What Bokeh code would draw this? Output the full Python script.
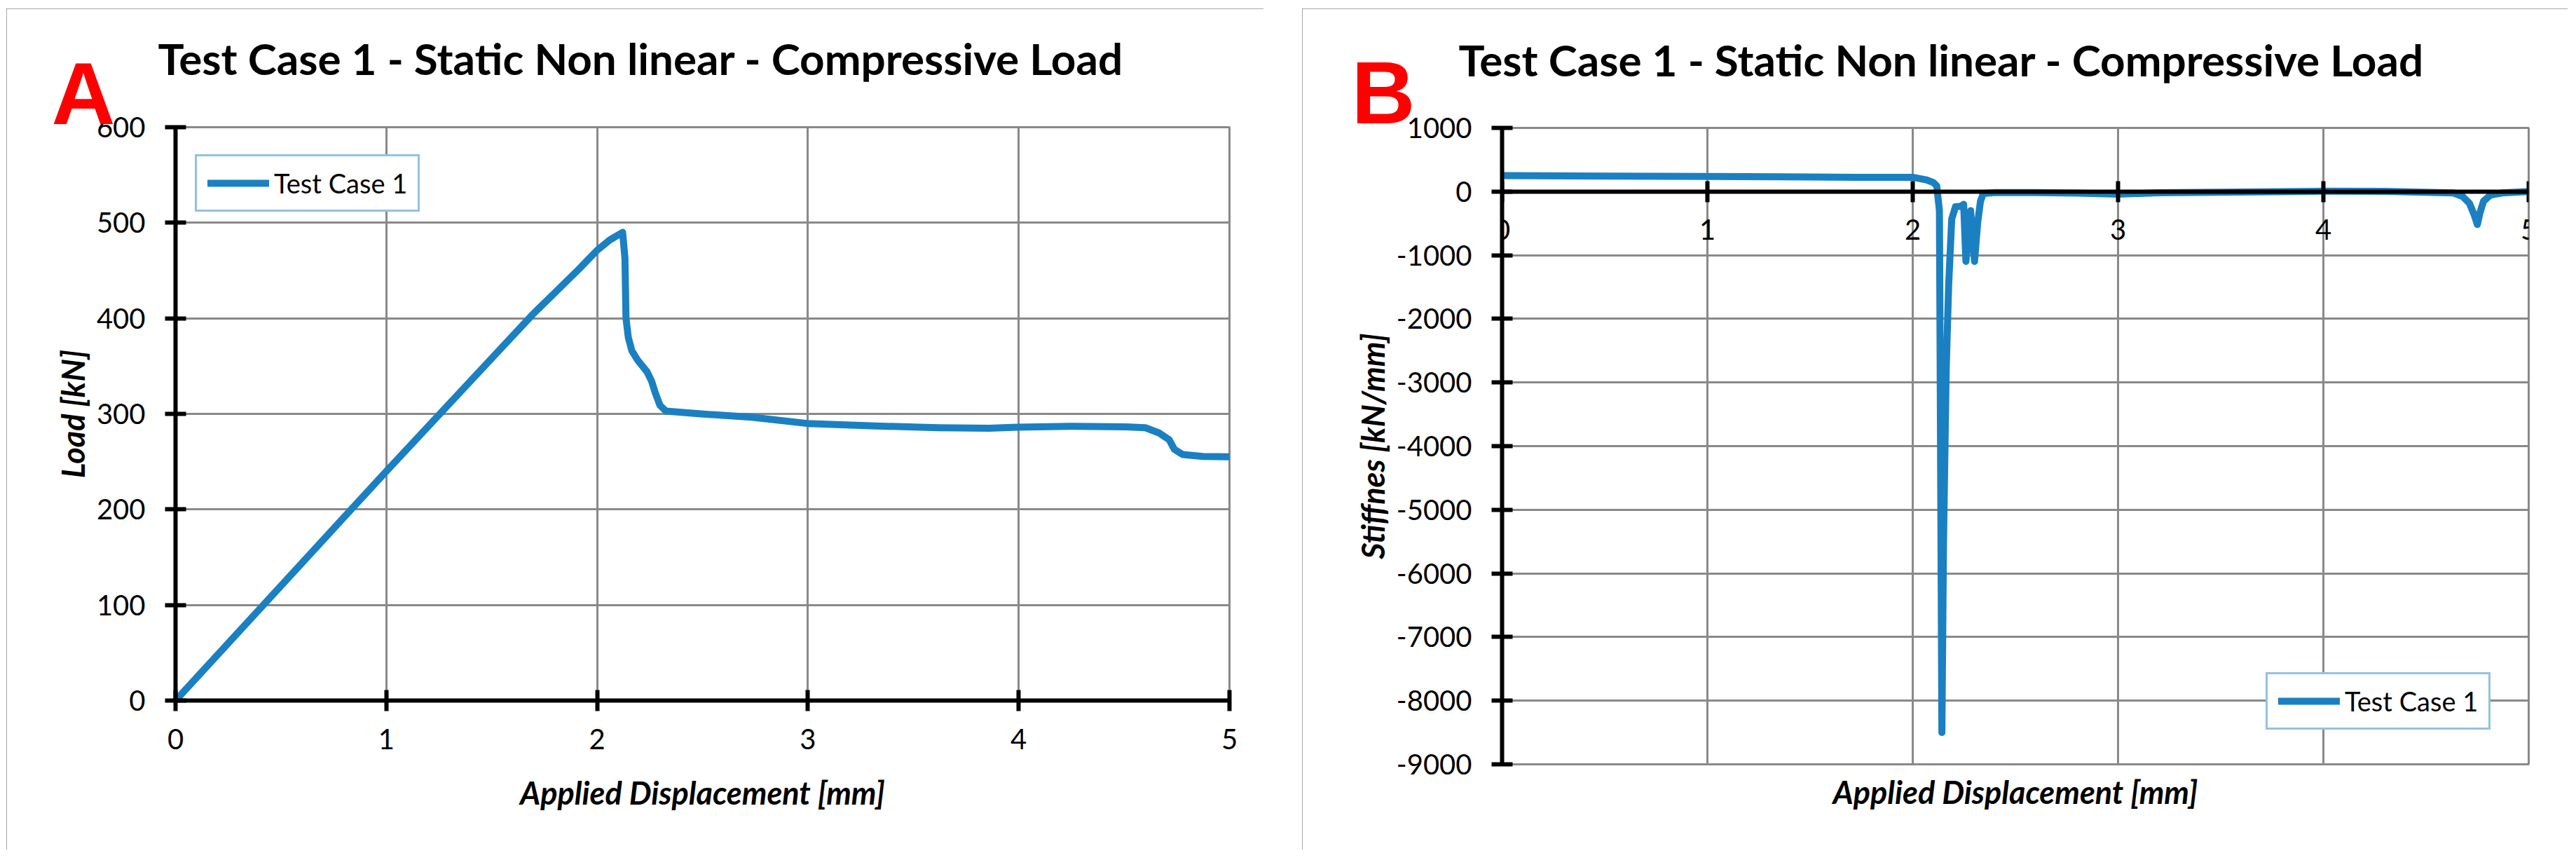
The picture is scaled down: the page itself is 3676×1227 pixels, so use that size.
from bokeh.plotting import figure
from bokeh.models import Range1d, FixedTicker, LinearAxis, Title
from bokeh.layouts import row, column
from bokeh.embed import file_html
from bokeh.resources import INLINE

# ---------------- data ----------------
chart_title = "Test Case 1 - Static Non linear - Compressive Load"
series_name = "Test Case 1"
x_title = "Applied Displacement [mm]"
y_title_a = "Load [kN]"
y_title_b = "Stiffnes [kN/mm]"

disp_a = [0.0, 1.0, 1.694, 1.805, 1.916, 1.999, 2.060, 2.121, 2.132, 2.137,
          2.148, 2.165, 2.193, 2.237, 2.259, 2.276, 2.298, 2.326, 2.492, 2.733,
          2.996, 3.297, 3.619, 3.860, 3.993, 4.262, 4.505, 4.601, 4.666, 4.714,
          4.738, 4.778, 4.875, 5.0]
load_a = [0, 240, 404, 428, 452, 471, 482, 490, 463, 400,
          380, 366, 356, 344, 334, 322, 309, 303, 300, 296.5,
          290, 287.5, 285.5, 285, 286, 287, 286.5, 285.5, 280, 273,
          263, 257.5, 255.5, 255]

disp_b = [0.0, 0.5, 1.0, 1.5, 1.73, 2.0, 2.07, 2.10, 2.117, 2.130,
          2.142, 2.150, 2.163, 2.175, 2.19, 2.208, 2.235, 2.248, 2.259, 2.282,
          2.301, 2.316, 2.33, 2.344, 2.4, 2.6, 2.8, 3.0, 3.2, 3.5,
          4.0, 4.3, 4.632, 4.678, 4.712, 4.735, 4.75, 4.763, 4.78, 4.814,
          4.87, 5.0]
stiff_b = [250, 242, 236, 230, 224, 224, 180, 143, 88, -300,
           -8500, -5500, -2800, -1470, -430, -240, -230, -200, -1097, -300,
           -1097, -500, -150, -30, -15, -15, -25, -40, -20, -10,
           5, 3, -22, -77, -187, -371, -518, -330, -150, -55,
           -22, 0]

x_ticks = [0, 1, 2, 3, 4, 5]
y_ticks_a = [0, 100, 200, 300, 400, 500, 600]
y_ticks_b = [1000, 0, -1000, -2000, -3000, -4000, -5000, -6000, -7000, -8000, -9000]

# ---------------- style ----------------
FONT = "Lato"
LINE = "#1A80C2"
GRID = "#898989"
LEG_BORDER = "#2A84C4"


def make_fig(width, margin, mbl, mbr, mbt, mbb, xr, yr):
    p = figure(width=width, height=1200, x_range=Range1d(*xr), y_range=Range1d(*yr),
               output_backend="svg", toolbar_location=None,
               min_border_left=mbl, min_border_right=mbr,
               min_border_top=mbt, min_border_bottom=mbb)
    p.margin = margin
    p.background_fill_color = "white"
    p.border_fill_color = "white"
    p.outline_line_color = GRID
    p.outline_line_width = 3
    p.styles = {"outline": "3px solid #8A8A8A", "outline-offset": "-3px"}
    for g in (p.xgrid, p.ygrid):
        g.grid_line_color = GRID
        g.grid_line_width = 3
    for ax in (p.xaxis, p.yaxis):
        ax.axis_line_color = "black"
        ax.axis_line_width = 6
        ax.major_tick_line_color = "black"
        ax.major_tick_line_width = 6
        ax.major_tick_in = 15
        ax.major_tick_out = 15
        ax.minor_tick_line_color = None
        ax.major_label_text_font = FONT
        ax.major_label_text_font_size = "40px"
        ax.major_label_text_color = "black"
        ax.axis_label_text_font = FONT
        ax.axis_label_text_font_size = "45px"
        ax.axis_label_text_font_style = "bold italic"
        ax.axis_label_text_color = "black"
    p.yaxis.major_label_standoff = 28
    p.xaxis.major_label_standoff = 25
    return p


def style_legend(p, loc):
    lg = p.legend[0]
    lg.location = loc
    lg.margin = 0
    lg.padding = 15
    lg.glyph_width = 88
    lg.glyph_height = 20
    lg.label_standoff = 7
    lg.label_text_font = FONT
    lg.label_text_font_size = "38px"
    lg.label_text_color = "black"
    lg.border_line_color = LEG_BORDER
    lg.border_line_width = 3
    lg.background_fill_color = "white"
    lg.background_fill_alpha = 1.0


def set_titles(p, t_offset, t_standoff, letter, l_offset, l_standoff):
    # red panel letter sits next to the frame, main title stacked above it
    p.add_layout(Title(text=letter, align="left", offset=l_offset, standoff=l_standoff,
                       vertical_align="bottom", text_font="Liberation Sans",
                       text_font_style="bold", text_font_size="126px",
                       text_color="#FF0000"), "above")
    p.title = Title(text=chart_title, align="left", offset=t_offset, standoff=t_standoff,
                    vertical_align="bottom", text_font=FONT, text_font_style="bold",
                    text_font_size="62px", text_color="black")


def minus_labels(ticks):
    return {t: (f"-{abs(t)}" if t < 0 else str(t)) for t in ticks}


# ---------------- chart A ----------------
pA = make_fig(1794, (12, 0, 0, 9), 241, 49, 169, 213, (0, 5), (0, 600))
pA.xaxis.ticker = FixedTicker(ticks=x_ticks)
pA.xgrid.ticker = FixedTicker(ticks=x_ticks)
pA.yaxis.ticker = FixedTicker(ticks=y_ticks_a)
pA.ygrid.ticker = FixedTicker(ticks=y_ticks_a)
pA.xaxis.axis_label = x_title
pA.xaxis.axis_label_standoff = 32
pA.yaxis.axis_label = y_title_a
pA.yaxis.axis_label_standoff = 4
pA.line(disp_a, load_a, line_color=LINE, line_width=10, line_join="round",
        line_cap="round", legend_label=series_name)
style_legend(pA, (28, 697))
set_titles(pA, -25, -74, "A", -177, -44)

# ---------------- chart B ----------------
pB = make_fig(1806, (12, 0, 0, 55), 285, 56, 170, 122, (0, 5), (-9000, 1000))
pB.xaxis.ticker = FixedTicker(ticks=x_ticks)
pB.xgrid.ticker = FixedTicker(ticks=x_ticks)
pB.yaxis.ticker = FixedTicker(ticks=y_ticks_b)
pB.ygrid.ticker = FixedTicker(ticks=y_ticks_b)
pB.yaxis.major_label_overrides = minus_labels(y_ticks_b)
pB.xaxis.fixed_location = 0
pB.yaxis.axis_label = y_title_b
pB.yaxis.axis_label_standoff = 4
xtitle_b = LinearAxis(ticker=FixedTicker(ticks=[]), axis_label=x_title,
                      axis_line_color=None, major_tick_line_color=None,
                      minor_tick_line_color=None, major_tick_in=0, major_tick_out=0,
                      minor_tick_in=0, minor_tick_out=0,
                      major_label_text_font_size="0px", major_label_standoff=0,
                      axis_label_standoff=12, axis_label_text_font=FONT,
                      axis_label_text_font_size="45px",
                      axis_label_text_font_style="bold italic",
                      axis_label_text_color="black")
pB.add_layout(xtitle_b, "below")
pB.line(disp_b, stiff_b, line_color=LINE, line_width=10, line_join="round",
        line_cap="round", legend_label=series_name)
style_legend(pB, (1090, 49))
set_titles(pB, -62, -84, "B", -215, -40)

layout = row(column(pA), column(pB), spacing=0)
open("out.html", "w").write(file_html(layout, INLINE))
